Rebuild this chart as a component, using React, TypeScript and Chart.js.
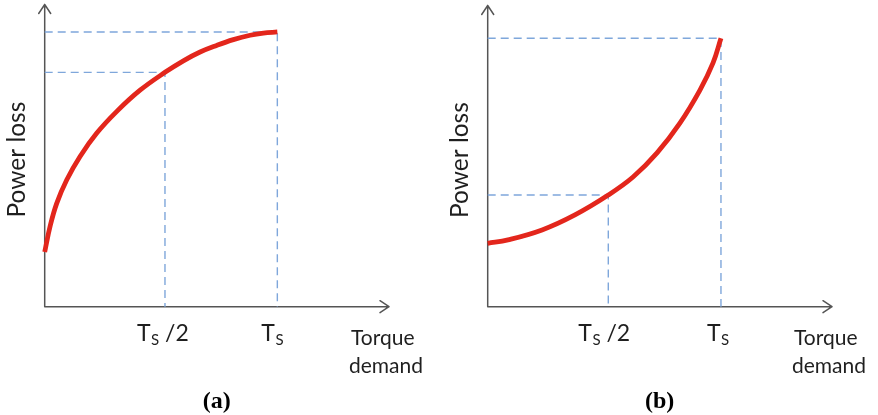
import React, { useEffect, useRef } from "react";
import { Chart, registerables } from "chart.js";

Chart.register(...registerables);

// ---- Data (torque as fraction of T_S, loss as fraction of loss at T_S) ----
const torqueA = [0, 0.023, 0.052, 0.095, 0.152, 0.224, 0.31, 0.41, 0.517, 0.596, 0.668, 0.739, 0.811, 0.883, 0.94, 1];
const lossA = [0.199, 0.292, 0.377, 0.462, 0.547, 0.632, 0.711, 0.788, 0.853, 0.895, 0.927, 0.951, 0.972, 0.988, 0.996, 1];

const torqueB = [0, 0.087, 0.233, 0.374, 0.517, 0.623, 0.726, 0.824, 0.91, 0.966, 1];
const lossB = [0.236, 0.249, 0.286, 0.342, 0.416, 0.483, 0.573, 0.684, 0.807, 0.908, 1];

// marker positions (T_S/2 and T_S) and the loss there
const markTorque = [0.517, 1];
const markLossA = [0.853, 1];
const markLossB = [0.416, 1];

// tick labels: main letter, subscript, tail
const tickMain = ["T", "T"];
const tickSub = ["S", "S"];
const tickTail = [" /2", ""];

const yTitle = "Power loss";
const xTitle = ["Torque", "demand"];
const panelLabels = ["(a)", "(b)"];

// axis extents (arrow tips)
const xMaxA = 1.48;
const yMaxA = 1.1;
const xMaxB = 1.476;
const yMaxB = 1.122;

const SANS = "Lato, 'Open Sans', sans-serif";

type PanelCfg = {
  torque: number[];
  loss: number[];
  markLoss: number[];
  xMax: number;
  yMax: number;
  padding: { left: number; right: number; top: number; bottom: number };
  label: string;
  tickOffsets: number[];
};

function makePlugin(cfg: PanelCfg) {
  return {
    id: "decor",
    beforeDatasetsDraw(chart: any) {
      const { ctx, chartArea } = chart;
      const { left, right, top, bottom } = chartArea;
      ctx.save();
      ctx.strokeStyle = "#555555";
      ctx.lineWidth = 1.5;
      ctx.lineCap = "round";
      ctx.lineJoin = "round";
      ctx.beginPath();
      ctx.moveTo(left, bottom);
      ctx.lineTo(left, top);
      ctx.moveTo(left, bottom);
      ctx.lineTo(right, bottom);
      ctx.moveTo(left - 6, top + 9);
      ctx.lineTo(left, top);
      ctx.lineTo(left + 6, top + 9);
      ctx.moveTo(right - 9, bottom - 6);
      ctx.lineTo(right, bottom);
      ctx.lineTo(right - 9, bottom + 6);
      ctx.stroke();
      ctx.restore();
    },
    afterDraw(chart: any) {
      const { ctx, chartArea, scales } = chart;
      const { left, right, top, bottom } = chartArea;
      ctx.save();
      ctx.fillStyle = "#1f1f1f";
      ctx.textBaseline = "alphabetic";
      ctx.save();
      ctx.translate(left - 20, (top + bottom) / 2 + 4);
      ctx.rotate(-Math.PI / 2);
      ctx.font = `24.5px ${SANS}`;
      ctx.textAlign = "center";
      ctx.fillText(yTitle, 0, 0);
      ctx.restore();
      ctx.textAlign = "left";
      markTorque.forEach((v, i) => {
        const px = scales.x.getPixelForValue(v);
        let x = px + cfg.tickOffsets[i];
        const base = bottom + 34;
        ctx.font = `23px ${SANS}`;
        ctx.fillText(tickMain[i], x, base);
        x += ctx.measureText(tickMain[i]).width + 0.5;
        ctx.font = `15px ${SANS}`;
        ctx.fillText(tickSub[i], x, base + 4);
        x += ctx.measureText(tickSub[i]).width;
        if (tickTail[i]) {
          ctx.font = `23px ${SANS}`;
          ctx.fillText(tickTail[i], x, base);
        }
      });
      ctx.font = `21px ${SANS}`;
      ctx.fillText(xTitle[0], right - 38, bottom + 38);
      ctx.fillText(xTitle[1], right - 40, bottom + 66);
      ctx.font = `bold 24px 'Liberation Serif', 'Times New Roman', serif`;
      ctx.fillStyle = "#000";
      ctx.textAlign = "center";
      ctx.fillText(cfg.label, left + 172, bottom + 101);
      ctx.restore();
    },
  };
}

function Panel({ cfg, width }: { cfg: PanelCfg; width: number }) {
  const ref = useRef<HTMLCanvasElement | null>(null);
  useEffect(() => {
    if (!ref.current) return;
    const curve = cfg.torque.map((x, i) => ({ x, y: cfg.loss[i] }));
    const dashed = [
      { x: 0, y: cfg.markLoss[0] },
      { x: markTorque[0], y: cfg.markLoss[0] },
      { x: markTorque[0], y: 0 },
    ];
    const dashed2 = [
      { x: 0, y: cfg.markLoss[1] },
      { x: markTorque[1], y: cfg.markLoss[1] },
      { x: markTorque[1], y: 0 },
    ];
    const dashStyle = {
      type: "line" as const,
      borderColor: "#7fa7db",
      borderWidth: 1.4,
      borderDash: [8, 5],
      pointRadius: 0,
      fill: false,
      tension: 0,
      clip: false as any,
      order: 2,
    };
    const chart = new Chart(ref.current, {
      type: "line",
      data: {
        datasets: [
          {
            label: "Power loss",
            data: curve,
            borderColor: "#e3261c",
            borderWidth: 4.8,
            pointRadius: 0,
            tension: 0.4,
            fill: false,
            clip: false as any,
            order: 0,
            borderCapStyle: "butt",
          },
          { label: "half", data: dashed, ...dashStyle },
          { label: "full", data: dashed2, ...dashStyle },
        ],
      },
      options: {
        animation: false,
        responsive: false,
        devicePixelRatio: 1,
        layout: { padding: cfg.padding },
        plugins: { legend: { display: false }, tooltip: { enabled: false } },
        scales: {
          x: { type: "linear", min: 0, max: cfg.xMax, display: false },
          y: { type: "linear", min: 0, max: cfg.yMax, display: false },
        },
      },
      plugins: [makePlugin(cfg)],
    });
    return () => chart.destroy();
  }, []);
  return <canvas ref={ref} width={width} height={415} style={{ display: "block", width, height: 415 }} />;
}

export default function App() {
  useEffect(() => {
    document.body.style.margin = "0";
    document.body.style.background = "#fff";
  }, []);
  const cfgA: PanelCfg = {
    torque: torqueA,
    loss: lossA,
    markLoss: markLossA,
    xMax: xMaxA,
    yMax: yMaxA,
    padding: { left: 44.7, right: 51, top: 4.5, bottom: 108.3 },
    label: panelLabels[0],
    tickOffsets: [-28, -16],
  };
  const cfgB: PanelCfg = {
    torque: torqueB,
    loss: lossB,
    markLoss: markLossB,
    xMax: xMaxB,
    yMax: yMaxB,
    padding: { left: 47.7, right: 46, top: 5.5, bottom: 108.3 },
    label: panelLabels[1],
    tickOffsets: [-30, -14],
  };
  return (
    <div style={{ position: "relative", width: 878, height: 415, background: "#fff" }}>
      <div style={{ position: "absolute", left: 0, top: 0 }}>
        <Panel cfg={cfgA} width={440} />
      </div>
      <div style={{ position: "absolute", left: 440, top: 0 }}>
        <Panel cfg={cfgB} width={438} />
      </div>
    </div>
  );
}
